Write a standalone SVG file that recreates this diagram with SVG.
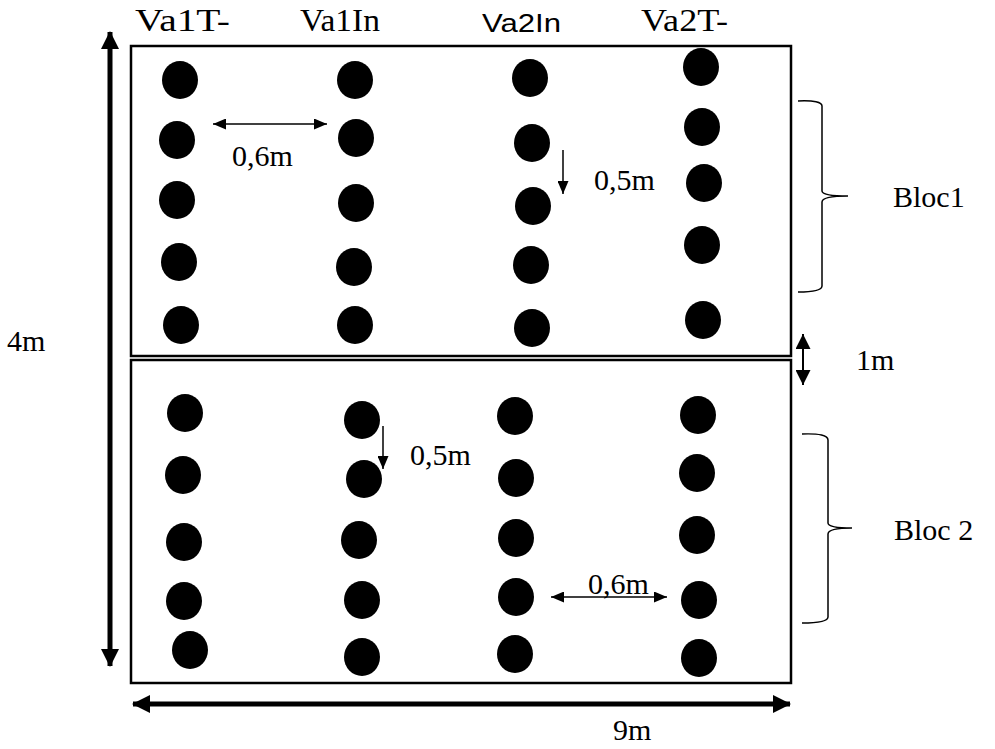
<svg xmlns="http://www.w3.org/2000/svg" width="995" height="749" viewBox="0 0 995 749">
<style>
.t{font-family:"Liberation Serif","Times New Roman",serif;font-size:30px;fill:#000}
.h{font-family:"Liberation Serif","Times New Roman",serif;font-size:31px;fill:#000}
.s{font-family:"Liberation Sans",Arial,sans-serif;font-size:26px;fill:#000}
.box{fill:none;stroke:#000;stroke-width:2.5}
.dot{fill:#000}
.thin{stroke:#000;stroke-width:1.5;fill:none}
.thick{stroke:#000;stroke-width:5;fill:none}
.mid{stroke:#000;stroke-width:2;fill:none}
.brace{stroke:#000;stroke-width:1.5;fill:none}
</style>
<defs>
<marker id="ah" markerUnits="userSpaceOnUse" markerWidth="13" markerHeight="11" refX="13" refY="5.5" orient="auto-start-reverse"><path d="M0,0 L13,5.5 L0,11 z" fill="#000"/></marker>
<marker id="ahb" markerUnits="userSpaceOnUse" markerWidth="18" markerHeight="18" refX="17" refY="9" orient="auto-start-reverse"><path d="M0,0 L18,9 L0,18 z" fill="#000"/></marker>
<marker id="ahm" markerUnits="userSpaceOnUse" markerWidth="15" markerHeight="15" refX="15" refY="7.5" orient="auto-start-reverse"><path d="M0,0 L15,7.5 L0,15 z" fill="#000"/></marker>
</defs>

<g id="labels">
<text class="h" x="135" y="31" textLength="95" lengthAdjust="spacingAndGlyphs">Va1T-</text>
<text class="h" x="300" y="31" textLength="80" lengthAdjust="spacingAndGlyphs">Va1In</text>
<text class="s" x="482" y="32" textLength="79" lengthAdjust="spacingAndGlyphs">Va2In</text>
<text class="h" x="641" y="31" textLength="87" lengthAdjust="spacingAndGlyphs">Va2T-</text>
</g>

<g id="bloc1">
<rect class="box" x="131" y="46" width="660" height="310"/>
<ellipse class="dot" cx="180" cy="80" rx="18" ry="19"/>
<ellipse class="dot" cx="177" cy="140" rx="18" ry="19"/>
<ellipse class="dot" cx="177" cy="200" rx="18" ry="19"/>
<ellipse class="dot" cx="179" cy="262" rx="18" ry="19"/>
<ellipse class="dot" cx="181" cy="325" rx="18" ry="19"/>
<ellipse class="dot" cx="355" cy="80" rx="18" ry="19"/>
<ellipse class="dot" cx="356" cy="138" rx="18" ry="19"/>
<ellipse class="dot" cx="356" cy="203" rx="18" ry="19"/>
<ellipse class="dot" cx="354" cy="267" rx="18" ry="19"/>
<ellipse class="dot" cx="355" cy="325" rx="18" ry="19"/>
<ellipse class="dot" cx="530" cy="78" rx="18" ry="19"/>
<ellipse class="dot" cx="532" cy="143" rx="18" ry="19"/>
<ellipse class="dot" cx="533" cy="206" rx="18" ry="19"/>
<ellipse class="dot" cx="531" cy="265" rx="18" ry="19"/>
<ellipse class="dot" cx="532" cy="328" rx="18" ry="19"/>
<ellipse class="dot" cx="701" cy="67" rx="18" ry="19"/>
<ellipse class="dot" cx="702" cy="127" rx="18" ry="19"/>
<ellipse class="dot" cx="704" cy="183" rx="18" ry="19"/>
<ellipse class="dot" cx="702" cy="245" rx="18" ry="19"/>
<ellipse class="dot" cx="703" cy="320" rx="18" ry="19"/>
</g>

<g id="bloc2">
<rect class="box" x="131" y="360" width="660" height="323"/>
<ellipse class="dot" cx="185" cy="413" rx="18" ry="19"/>
<ellipse class="dot" cx="183" cy="475" rx="18" ry="19"/>
<ellipse class="dot" cx="184" cy="542" rx="18" ry="19"/>
<ellipse class="dot" cx="184" cy="601" rx="18" ry="19"/>
<ellipse class="dot" cx="190" cy="650" rx="18" ry="19"/>
<ellipse class="dot" cx="362" cy="420" rx="18" ry="19"/>
<ellipse class="dot" cx="364" cy="479" rx="18" ry="19"/>
<ellipse class="dot" cx="359" cy="540" rx="18" ry="19"/>
<ellipse class="dot" cx="362" cy="600" rx="18" ry="19"/>
<ellipse class="dot" cx="362" cy="657" rx="18" ry="19"/>
<ellipse class="dot" cx="515" cy="416" rx="18" ry="19"/>
<ellipse class="dot" cx="516" cy="478" rx="18" ry="19"/>
<ellipse class="dot" cx="516" cy="538" rx="18" ry="19"/>
<ellipse class="dot" cx="516" cy="597" rx="18" ry="19"/>
<ellipse class="dot" cx="515" cy="654" rx="18" ry="19"/>
<ellipse class="dot" cx="698" cy="415" rx="18" ry="19"/>
<ellipse class="dot" cx="697" cy="473" rx="18" ry="19"/>
<ellipse class="dot" cx="697" cy="535" rx="18" ry="19"/>
<ellipse class="dot" cx="699" cy="600" rx="18" ry="19"/>
<ellipse class="dot" cx="699" cy="658" rx="18" ry="19"/>
</g>

<g id="connectors">
<line class="thin" x1="213" y1="124" x2="327" y2="124" marker-start="url(#ah)" marker-end="url(#ah)"/>
<line class="thin" x1="563" y1="150" x2="563" y2="194" marker-end="url(#ah)"/>
<line class="thin" x1="383" y1="426" x2="383" y2="469" marker-end="url(#ah)"/>
<line class="thin" x1="551" y1="597" x2="667" y2="597" marker-start="url(#ah)" marker-end="url(#ah)"/>
<line class="mid" x1="803" y1="334" x2="803" y2="385" marker-start="url(#ahm)" marker-end="url(#ahm)"/>
<line class="thick" x1="110" y1="32" x2="110" y2="666" marker-start="url(#ahb)" marker-end="url(#ahb)"/>
<line class="thick" x1="133" y1="704" x2="790" y2="704" marker-start="url(#ahb)" marker-end="url(#ahb)"/>
<path class="brace" d="M798,101 Q822,100 822,106 L822,191 Q822,196 848,196 Q822,196 822,202 L822,286 Q822,292 798,292"/>
<path class="brace" d="M802,434 Q828,433 828,440 L828,523 Q828,528 852,528 Q828,528 828,534 L828,617 Q828,623 802,623"/>
</g>

<g id="dimensions">
<text class="t" x="232" y="166">0,6m</text>
<text class="t" x="594" y="190">0,5m</text>
<text class="t" x="410" y="465">0,5m</text>
<text class="t" x="588" y="594">0,6m</text>
<text class="t" x="856" y="370">1m</text>
<text class="t" x="7" y="351">4m</text>
<text class="t" x="613" y="740">9m</text>
<text class="t" x="893" y="207">Bloc1</text>
<text class="t" x="894" y="540">Bloc 2</text>
</g>
</svg>
